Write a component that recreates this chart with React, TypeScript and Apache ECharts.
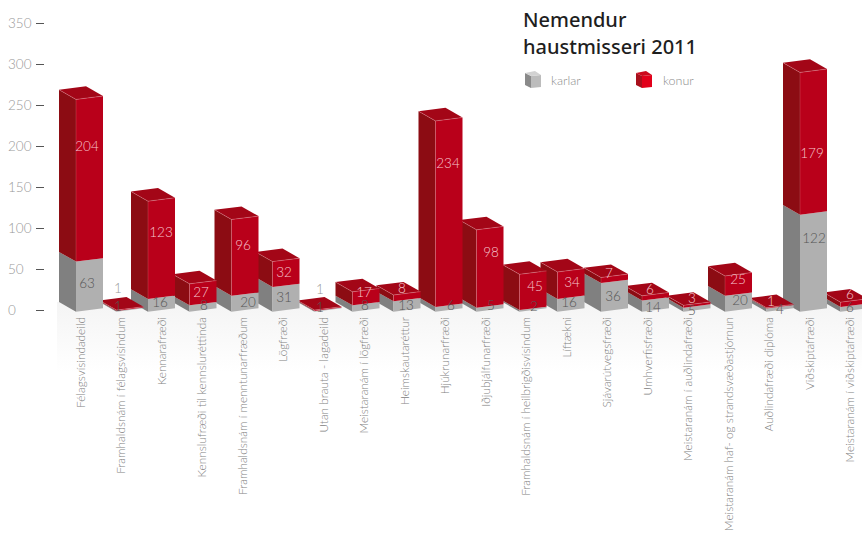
import React, { useEffect, useRef } from "react";
import * as echarts from "echarts";

const categories = [
  "Félagsvísindadeild",
  "Framhaldsnám í félagsvísindum",
  "Kennarafræði",
  "Kennslufræði til kennsluréttinda",
  "Framhaldsnám í menntunarfræðum",
  "Lögfræði",
  "Utan brauta - lagadeild",
  "Meistaranám í lögfræði",
  "Heimskautaréttur",
  "Hjúkrunarfræði",
  "Iðjubjálfunarfræði",
  "Framhaldsnám í heilbrigðisvísindum",
  "Líftækni",
  "Sjávarútvegsfræði",
  "Umhverfisfræði",
  "Meistaranám í auðlindafræði",
  "Meistaranám haf- og strandsvæðastjórnun",
  "Auðlindafræði diplóma",
  "Viðskiptafræði",
  "Meistaranám í viðskiptafræði",
];
const karlar = [63, 1, 16, 8, 20, 31, 1, 8, 13, 6, 5, 2, 16, 36, 14, 5, 20, 4, 122, 6];
const konur = [204, 1, 123, 27, 96, 32, 1, 17, 8, 234, 98, 45, 34, 7, 6, 3, 25, 1, 179, 6];

// layout tweaks, in pixels, relative to what the scales give
const barShift = [9.5, 9.5, 0.5, 1.5, 3, 3.5, 5, 2.5, 3, 4.5, 5, 7.5, 5, 8, 8.5, 9.5, 10.5, 11.5, 4.5, 4.5];
const konurLabelDy = [47, -22, 31, 8, 25.5, 10, -21, 0, -7, 42.4, 22, 11.4, 9.7, -4.5, -7, -7.3, 3, -7, 80.6, -8];
const karlarLabelRise = [28.7, 5.7, 9.7, 6.7, 10, 15, 4.7, 6.7, 6.7, 6.7, 6.7, 5.7, 9.7, 15.7, 4.7, 1.7, 11.7, 2.7, 73.7, 4.7];
const konurLabelDx = [-2.5, -12, -0.5, -2, -2, -2, -8, -2, -5, -1, 1, 2, 1, -5.5, -5.5, -5, -0.5, -9, -1.5, -4];
const karlarLabelDx = [-2.5, -12, -1.5, 1, 3, -2, -8, -1, -1, 2, 1, 1, -2, -1.5, -2.5, -5, 1.5, 0, 0.5, -4];

const FONT = "Lato, 'Open Sans', sans-serif";
const W = 27;
const DX = -17;
const DY = -9.7;
const SLOPE = 1.7;
const C = {
  redFront: "#b9001a",
  redSide: "#8c0c13",
  redTop: "#a30617",
  greyFront: "#b0b0b0",
  greySide: "#808080",
  edge: "rgba(255,200,205,0.45)",
};

function poly(points: number[][], fill: string) {
  return { type: "polygon", silent: true, shape: { points }, style: { fill } };
}
function line(a: number[], b: number[], stroke: string) {
  return {
    type: "line",
    silent: true,
    shape: { x1: a[0], y1: a[1], x2: b[0], y2: b[1] },
    style: { stroke, lineWidth: 0.6 },
  };
}

function renderBar(_p: any, api: any) {
  const i = api.value(0);
  const m = api.value(1);
  const f = api.value(2);
  const base = api.coord([i, 0]);
  const mid = api.coord([i, m]);
  const top = api.coord([i, m + f]);
  const cx = base[0] + barShift[i];
  const l = cx - W / 2;
  const r = cx + W / 2;
  const fl = (y: number) => [l, y + SLOPE];
  const fr = (y: number) => [r, y - SLOPE];
  const bl = (y: number) => [l + DX, y + SLOPE + DY];
  const br = (y: number) => [r + DX, y - SLOPE + DY];
  const y0 = base[1];
  const y1 = mid[1];
  const y2 = top[1];
  return {
    type: "group",
    children: [
      poly([bl(y0), fl(y0), fl(y1), bl(y1)], C.greySide),
      poly([fl(y0), fr(y0), fr(y1), fl(y1)], C.greyFront),
      poly([bl(y1), fl(y1), fl(y2), bl(y2)], C.redSide),
      poly([fl(y1), fr(y1), fr(y2), fl(y2)], C.redFront),
      poly([bl(y2), fl(y2), fr(y2), br(y2)], C.redTop),
      line(fl(y2), fr(y2), C.edge),
      line(bl(y2), fl(y2), C.edge),
      line(fl(y2), fl(y1), "rgba(255,200,205,0.3)"),
    ],
  };
}

function renderLabels(_p: any, api: any) {
  const i = api.value(0);
  const m = api.value(1);
  const f = api.value(2);
  const base = api.coord([i, 0]);
  const top = api.coord([i, m + f]);
  const cx = base[0] + barShift[i];
  const flat = m === 1;
  const txt = (v: number, x: number, y: number, fill: string) => ({
    type: "text",
    silent: true,
    style: {
      text: String(v),
      x,
      y,
      align: "center",
      verticalAlign: "middle",
      fill,
      fontSize: 13.5,
      fontWeight: 300,
      fontFamily: FONT,
    },
  });
  return {
    type: "group",
    children: [
      txt(f, cx + konurLabelDx[i], top[1] + SLOPE + konurLabelDy[i], flat ? "#999999" : "#f6c6cd"),
      txt(m, cx + karlarLabelDx[i], base[1] + SLOPE - karlarLabelRise[i], "#555555"),
    ],
  };
}

function cube(x: number, y: number, front: string, side: string, topc: string) {
  return {
    type: "group",
    x,
    y,
    children: [
      { type: "polygon", shape: { points: [[0, 2], [6, 5], [6, 17], [0, 14]] }, style: { fill: side } },
      { type: "polygon", shape: { points: [[6, 5], [16, 4], [16, 16], [6, 17]] }, style: { fill: front } },
      { type: "polygon", shape: { points: [[0, 2], [10, 0], [16, 4], [6, 5]] }, style: { fill: topc } },
    ],
  };
}

export default function App() {
  const ref = useRef<HTMLDivElement>(null);
  useEffect(() => {
    const chart = echarts.init(ref.current!, undefined, { renderer: "svg" });
    const rows = categories.map((_, i) => [i, karlar[i], konur[i]]).reverse();
    const legendText = (text: string, x: number) => ({
      type: "text",
      x,
      y: 80,
      style: {
        text,
        fill: "#8c8c8c",
        fontSize: 12.5,
        fontWeight: 300,
        fontFamily: FONT,
        verticalAlign: "middle",
      },
    });
    chart.setOption({
      animation: false,
      backgroundColor: "#ffffff",
      title: {
        text: "Nemendur\nhaustmisseri 2011",
        left: 518,
        top: 1,
        textStyle: {
          color: "#1e1e1e",
          fontFamily: "'Noto Sans', sans-serif",
          fontSize: 20,
          fontWeight: 500,
          lineHeight: 27,
        },
      },
      grid: { left: 59.75, top: 23, width: 810, height: 287, outerBoundsMode: "none" },
      xAxis: {
        type: "category",
        data: categories,
        axisLine: { show: false },
        axisTick: { show: false },
        axisLabel: {
          interval: 0,
          rotate: 90,
          margin: 7,
          color: "#808080",
          fontSize: 11.8,
          fontWeight: 300,
          fontFamily: FONT,
        },
      },
      yAxis: [
        {
          type: "value",
          min: 0,
          max: 350,
          interval: 50,
          offset: 15.75,
          splitLine: { show: false },
          axisLine: { show: false },
          axisTick: { show: true, length: 8, lineStyle: { color: "#555555", width: 1 } },
          axisLabel: {
            align: "left",
            margin: 36,
            color: "#999999",
            fontSize: 13.5,
            fontWeight: 300,
            fontFamily: FONT,
          },
        },
        { type: "value", min: 0, max: 361, show: false, splitLine: { show: false } },
      ],
      graphic: [
        {
          type: "rect",
          z: -1,
          silent: true,
          shape: { x: 57, y: 302, width: 805, height: 70 },
          style: {
            fill: new echarts.graphic.LinearGradient(0, 0, 0, 1, [
              { offset: 0, color: "#f4f4f4" },
              { offset: 1, color: "#ffffff" },
            ]),
          },
        },
        cube(525, 71, "#bcbcbc", "#8a8a8a", "#d2d2d2"),
        cube(636, 71, "#e2001a", "#a8101c", "#cc0a1d"),
        legendText("karlar", 551),
        legendText("konur", 663),
      ],
      series: [
        {
          type: "custom",
          name: "bars",
          xAxisIndex: 0,
          yAxisIndex: 1,
          clip: false,
          z: 2,
          encode: { x: 0, y: [1, 2] },
          data: rows,
          renderItem: renderBar,
        },
        {
          type: "custom",
          name: "labels",
          xAxisIndex: 0,
          yAxisIndex: 1,
          clip: false,
          z: 3,
          encode: { x: 0, y: [1, 2] },
          data: rows,
          renderItem: renderLabels,
        },
      ],
    });
    return () => chart.dispose();
  }, []);
  return (
    <div
      ref={ref}
      style={{ position: "absolute", left: 0, top: 0, width: 862, height: 538 }}
    />
  );
}
